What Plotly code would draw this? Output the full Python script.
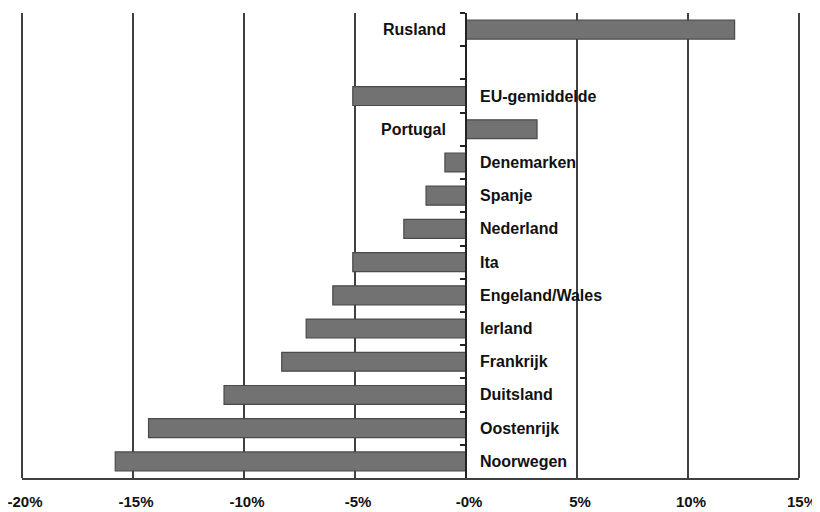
import plotly.graph_objects as go

categories = ["Rusland", " ", "EU-gemiddelde", "Portugal", "Denemarken", "Spanje",
              "Nederland", "Ita", "Engeland/Wales", "Ierland", "Frankrijk",
              "Duitsland", "Oostenrijk", "Noorwegen"]
values = [12.1, None, -5.1, 3.2, -0.95, -1.8, -2.8, -5.1, -6.0, -7.2, -8.3, -10.9, -14.3, -15.8]
tick_vals = [-20, -15, -10, -5, 0, 5, 10, 15]
tick_text = ["-20%", "-15%", "-10%", "-5%", "-0%", "5%", "10%", "15%"]

FONT = "Liberation Sans"
x_min, x_max = -20, 15
LINE = "#404040"

fig = go.Figure()
fig.add_trace(go.Bar(
    x=values, y=categories, orientation="h",
    marker=dict(color="#727272", line=dict(color="#4a4a4a", width=1.2)),
    width=0.57, showlegend=False, hoverinfo="x+y",
))

for cat, v in zip(categories, values):
    if v is None:
        continue
    if v < 0:
        fig.add_annotation(x=0, y=cat, text=cat, showarrow=False, xanchor="left",
                           xshift=12, font=dict(family=FONT, size=16, color="#111", weight="bold"))
    else:
        fig.add_annotation(x=0, y=cat, text=cat, showarrow=False, xanchor="right",
                           xshift=-18, font=dict(family=FONT, size=16, color="#111", weight="bold"))

# left and right frame lines of the plot area
for xp in (0, 1):
    fig.add_shape(type="line", xref="paper", yref="paper", x0=xp, x1=xp, y0=0, y1=1,
                  line=dict(color=LINE, width=2))

zero_frac = (0 - x_min) / (x_max - x_min)

fig.update_layout(
    width=812, height=504,
    margin=dict(l=14, r=21, t=5, b=34),
    paper_bgcolor="white", plot_bgcolor="white",
    font=dict(family=FONT, size=14, color="#111"),
    xaxis=dict(
        range=[x_min, x_max], tickvals=tick_vals, ticktext=tick_text,
        automargin=False, ticklabeloverflow="allow", ticklabelshift=3,
        showgrid=True, gridcolor=LINE, gridwidth=2,
        zeroline=True, zerolinecolor="#222", zerolinewidth=2,
        showline=True, linecolor=LINE, linewidth=2,
        ticks="", tickfont=dict(family=FONT, size=15, color="#111", weight="bold"),
        ticklabelstandoff=9,
    ),
    yaxis=dict(
        categoryorder="array", categoryarray=categories,
        range=[len(categories) - 0.5, -0.5],
        anchor="free", position=zero_frac, automargin=False,
        showticklabels=False, showgrid=False, zeroline=False,
        showline=True, linecolor="#222", linewidth=2,
        ticks="outside", ticklen=5, tickcolor="#222", tickwidth=2,
        tickson="boundaries",
    ),
)

fig.write_html("out.html")
